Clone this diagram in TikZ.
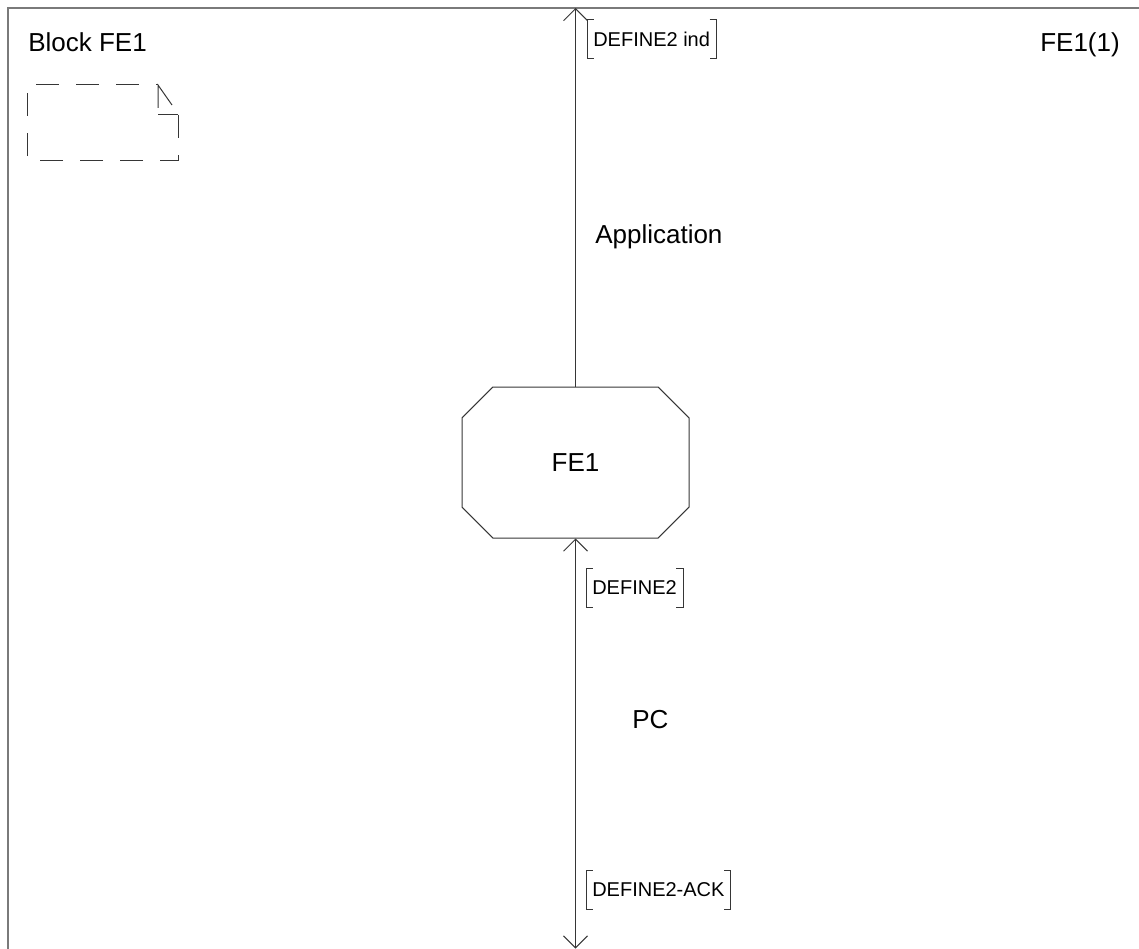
\documentclass[tikz,border=0pt]{standalone}
\usepackage{fontspec}
\setmainfont{Liberation Sans}
\usetikzlibrary{positioning,arrows.meta,shapes.misc}
\definecolor{Ink}{HTML}{363636}
\definecolor{Frame}{HTML}{7A7A7A}

% square brackets round a signal list
\newcommand\sigbrackets[1]{%
  \draw[Ink, line width=0.75pt] ([xshift=5pt]#1.north west) -- (#1.north west)
    -- (#1.south west) -- ([xshift=5pt]#1.south west);
  \draw[Ink, line width=0.75pt] ([xshift=-5pt]#1.north east) -- (#1.north east)
    -- (#1.south east) -- ([xshift=-5pt]#1.south east);}

\begin{document}
\begin{tikzpicture}[x=0.75pt, y=-0.75pt,
    >={Straight Barb[length=9pt,width=18pt]},
    bigtext/.style={font=\fontsize{19.5}{23}\selectfont, inner sep=0pt},
    sigtext/.style={font=\fontsize{15}{18}\selectfont, inner xsep=4.5pt,
      inner ysep=0pt, minimum height=28.5pt, anchor=west},
    feblock/.style={chamfered rectangle, chamfered rectangle xsep=16.5pt,
      chamfered rectangle ysep=16.5pt, draw=Ink, line width=0.75pt,
      minimum width=170.25pt, minimum height=113.25pt,
      font=\fontsize{19.5}{23}\selectfont, inner sep=0pt},
    channel/.style={draw=Ink, line width=0.75pt}]
  \useasboundingbox (0,0) rectangle (1139,949);
  % frame (only top and left edges are shown)
  \draw[Frame, line width=0.9pt] (8,949) -- (8,8) -- (1139,8);
  \node[bigtext, anchor=base west] (blockname) at (28,52) {Block FE1};
  \node[bigtext, anchor=base east] (pagename) at (1120,52) {FE1(1)};
  % dashed reference symbol with folded corner
  \draw[Ink, line width=0.75pt, dash pattern=on 17.25pt off 12.75pt]
    (178,115) -- (178,160) -- (27,160) -- (27,85) -- (158,85);
  \draw[Ink, line width=0.75pt] (158,108) -- (158,85) -- (172,105);
  \draw[Ink, line width=0.75pt] (158,115) -- (178,115);
  % the functional entity
  \node[feblock] (fe1) at (575.5,462.5) {FE1};
  % channel up to the application
  \coordinate (apptop) at (575.5,8);
  \draw[channel, ->] (fe1.north) -- (apptop);
  \node[sigtext] (sigind) at (587,39) {DEFINE2 ind};
  \sigbrackets{sigind}
  \node[bigtext, anchor=base west] (applabel) at (595,243) {Application};
  % channel down to the PC
  \coordinate (pcend) at (575.5,948.5);
  \draw[channel, <->] (pcend) -- (fe1.south);
  \node[sigtext] (sigreq) at (586,588) {DEFINE2};
  \sigbrackets{sigreq}
  \node[bigtext, anchor=base west] (pclabel) at (632,728) {PC};
  \node[sigtext] (sigack) at (586,890) {DEFINE2-ACK};
  \sigbrackets{sigack}
\end{tikzpicture}
\end{document}
